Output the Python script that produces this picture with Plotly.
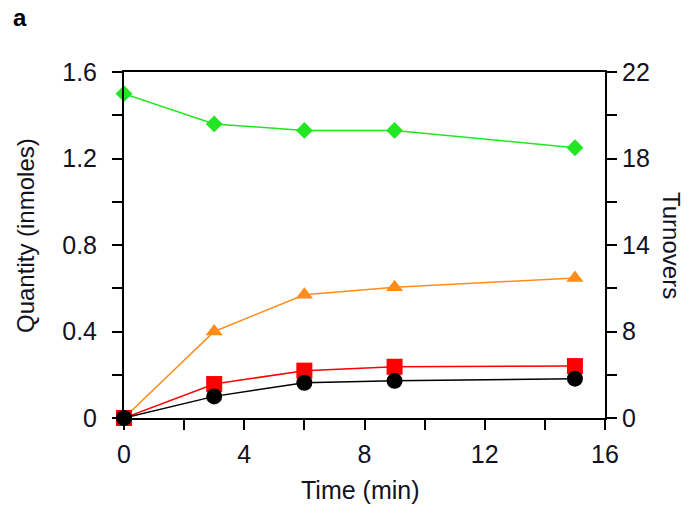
import plotly.graph_objects as go

time_min = [0, 3, 6, 9, 15]
green_vals = [1.50, 1.36, 1.33, 1.33, 1.25]
orange_vals = [0.0, 0.40, 0.57, 0.605, 0.647]
red_vals = [0.0, 0.157, 0.219, 0.237, 0.24]
black_vals = [0.0, 0.10, 0.163, 0.172, 0.182]

x_tickvals = [0, 2, 4, 6, 8, 10, 12, 14, 16]
x_ticktext = ["0", "", "4", "", "8", "", "12", "", "16"]
y_tickvals = [0, 0.2, 0.4, 0.6, 0.8, 1.0, 1.2, 1.4, 1.6]
y_ticktext = ["0", "", "0.4", "", "0.8", "", "1.2", "", "1.6"]
y2_tickvals = [0, 2.75, 5.5, 8.25, 11, 13.75, 16.5, 19.25, 22]
y2_ticktext = ["0", "", "8", "", "14", "", "18", "", "22"]

FONT = "Liberation Sans, Arial, sans-serif"
TXT = "#111122"
FS = 25

W, H = 698, 513
ML, MR, MT, MB = 124, 93, 72, 95

fig = go.Figure()
series = [
    (green_vals, "#22e622", "diamond", 13),
    (orange_vals, "#ff8c1a", "triangle-up", 15),
    (red_vals, "#ff0000", "square", 16),
    (black_vals, "#000000", "circle", 16),
]
for vals, col, sym, sz in series:
    fig.add_trace(go.Scatter(
        x=time_min, y=vals, mode="lines+markers",
        line=dict(color=col, width=1.5),
        marker=dict(color=col, symbol=sym, size=sz, line=dict(width=0)),
        cliponaxis=False, showlegend=False,
    ))
# invisible trace so the right-hand (turnovers) axis is drawn
fig.add_trace(go.Scatter(
    x=time_min[:1], y=y2_tickvals[:1], yaxis="y2", mode="markers",
    marker=dict(opacity=0), hoverinfo="skip", showlegend=False,
))

axis_common = dict(
    showline=True, linecolor="black", linewidth=2,
    ticks="outside", ticklen=10, tickwidth=2, tickcolor="black",
    showgrid=False, zeroline=False,
    tickfont=dict(family=FONT, size=FS, color=TXT),
)

fig.update_layout(
    width=W, height=H,
    margin=dict(l=ML, r=MR, t=MT, b=MB),
    plot_bgcolor="white", paper_bgcolor="white",
    xaxis=dict(range=[0, 16], tickvals=x_tickvals, ticktext=x_ticktext,
               mirror=True, ticklabelstandoff=3, **axis_common),
    yaxis=dict(range=[0, 1.6], tickvals=y_tickvals, ticktext=y_ticktext,
               ticklabelstandoff=10, **axis_common),
    yaxis2=dict(range=[0, 22], tickvals=y2_tickvals, ticktext=y2_ticktext,
                overlaying="y", side="right", anchor="x", **axis_common),
)

pw, ph = W - ML - MR, H - MT - MB
def px(xp):
    return (xp - ML) / pw
def py(yp):
    return (H - MB - yp) / ph

def label(text, x, y, size, angle=0, color=TXT):
    fig.add_annotation(text=text, x=px(x), y=py(y), xref="paper", yref="paper",
                       xanchor="center", yanchor="middle", showarrow=False,
                       textangle=angle, font=dict(family=FONT, size=size, color=color))

label("<b>a</b>", 19.5, 17, 24, color="black")
label("Quantity (inmoles)", 25, 236, 24, angle=-90)
label("Turnovers", 672, 245, 24, angle=90)
label("Time (min)", 360, 490, FS)

fig.write_html("out.html",
               config={"displayModeBar": False},
               post_script="document.body.style.margin='0';document.body.style.overflow='hidden';")
